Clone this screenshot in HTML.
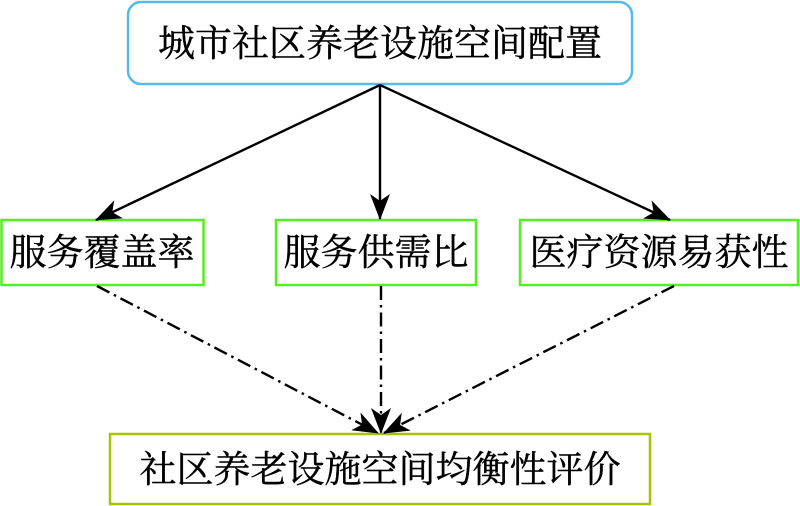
<!DOCTYPE html>
<html><head><meta charset="utf-8"><style>
html,body{margin:0;padding:0;background:#fff;}
svg{display:block;}
text{font-family:"Liberation Serif","Noto Serif CJK SC",serif;font-size:37px;fill:#000;stroke:#000;stroke-width:0.4;}
</style></head><body>
<svg width="800" height="506" viewBox="0 0 800 506" xmlns="http://www.w3.org/2000/svg">
<defs>
<marker id="b" markerWidth="26" markerHeight="20" refX="25" refY="10" orient="auto" markerUnits="userSpaceOnUse">
<path d="M0,0 L26,10 L0,20 L7,10 Z" fill="#000"/>
</marker>
</defs>
<rect x="128" y="2" width="504" height="82" rx="13" fill="#fff" stroke="#55bbee" stroke-width="2.5"/>
<text x="380" y="56" text-anchor="middle">城市社区养老设施空间配置</text>

<rect x="1.5" y="220" width="202" height="65" fill="#fff" stroke="#55ee22" stroke-width="2.5"/>
<text x="102" y="265" text-anchor="middle">服务覆盖率</text>
<rect x="276" y="220" width="200" height="65" fill="#fff" stroke="#55ee22" stroke-width="2.5"/>
<text x="376" y="265" text-anchor="middle">服务供需比</text>
<rect x="520" y="220" width="278" height="65" fill="#fff" stroke="#55ee22" stroke-width="2.5"/>
<text x="659" y="265" text-anchor="middle">医疗资源易获性</text>

<rect x="110" y="434" width="540" height="70" fill="#fff" stroke="#a8c400" stroke-width="2.5"/>
<text x="380" y="482" text-anchor="middle">社区养老设施空间均衡性评价</text>

<g stroke="#000" stroke-width="2.4" fill="none">
<line x1="380" y1="85" x2="96" y2="220" marker-end="url(#b)"/>
<line x1="380" y1="85" x2="380" y2="219" marker-end="url(#b)"/>
<line x1="380" y1="85" x2="670" y2="220" marker-end="url(#b)"/>
<g stroke-dasharray="14,5,2.5,5">
<line x1="97" y1="286" x2="378" y2="433" marker-end="url(#b)"/>
<line x1="381" y1="286" x2="381" y2="433" marker-end="url(#b)"/>
<line x1="674" y1="286" x2="384" y2="433" marker-end="url(#b)"/>
</g>
</g>
</svg>
</body></html>
